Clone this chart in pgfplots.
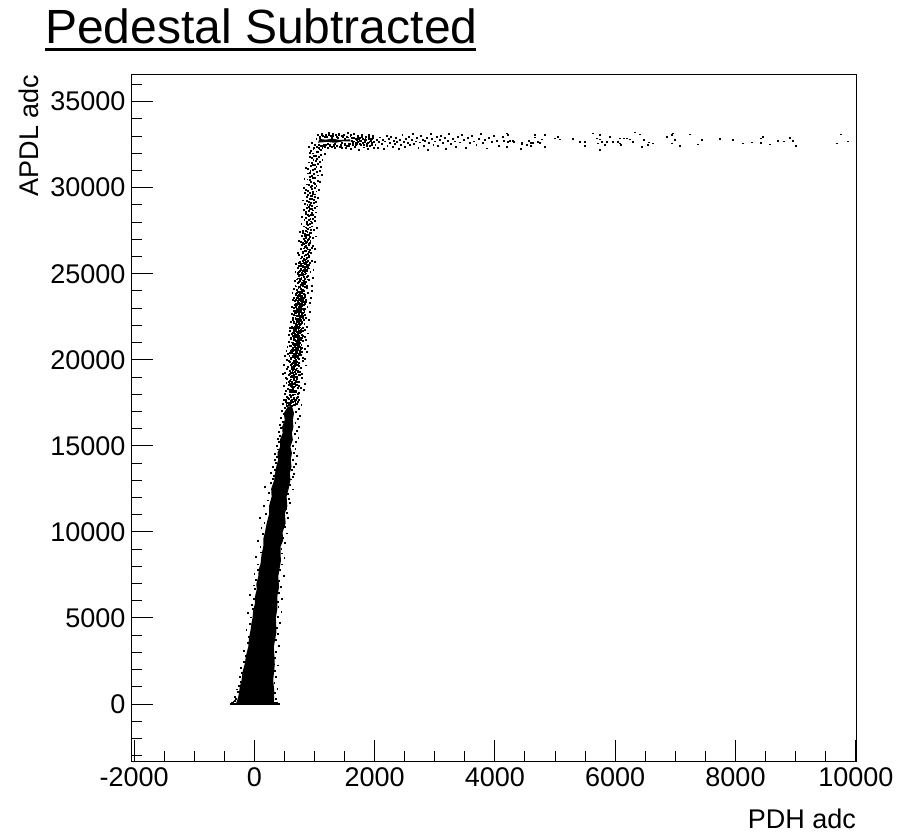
\documentclass[border=0pt]{standalone}
\usepackage{fontspec}
\setmainfont{Liberation Sans}
\usepackage{pgfplots}
\pgfplotsset{compat=1.18}
\begin{document}
\begin{tikzpicture}
\useasboundingbox (0,0) rectangle (673.5pt,625.5pt);
\begin{axis}[
    at={(98.6pt,54.2pt)}, anchor=south west,
    scale only axis, width=543.6pt, height=515.3pt,
    xmin=-2043, xmax=10008, ymin=-3353, ymax=36568,
    axis line style={line width=0.75pt},
    tick style={line width=0.75pt, black},
    tick align=inside,
    ytick pos=left, xtick pos=bottom,
    major tick length=16.5pt, minor tick length=8.25pt,
    xtick={-2000,0,...,10000},
    ytick={0,5000,...,35000},
    scaled ticks=false,
    minor xtick={-1500,-1000,-500,500,1000,1500,2500,3000,3500,4500,5000,5500,6500,7000,7500,8500,9000,9500},
    minor ytick={-3000,-2000,-1000,1000,2000,3000,4000,6000,7000,8000,9000,11000,12000,13000,14000,16000,17000,18000,19000,21000,22000,23000,24000,26000,27000,28000,29000,31000,32000,33000,34000,36000},
    tick label style={font=\fontsize{20.25}{24}\selectfont, /pgf/number format/assume math mode=true, /pgf/number format/1000 sep={}},
    xticklabel style={yshift=-1pt},
    yticklabel style={xshift=-1pt},
    label style={font=\fontsize{20.25}{24}\selectfont, inner sep=0pt},
    xlabel={PDH adc},
    xlabel style={at={(axis description cs:1,-0.0965)}, anchor=base east},
    ylabel={APDL adc},
    ylabel style={at={(axis description cs:-0.1277,1)}, anchor=base east},
    title={\rlap{\rule[-5.3pt]{323pt}{2pt}}Pedestal Subtracted},
    title style={at={(axis description cs:-0.1194,1.0432)}, anchor=base west, yshift=-5pt, font=\fontsize{36}{40}\selectfont, inner sep=0pt},
]
% solid part of the band
\addplot[fill=black, draw=none] coordinates {
(-306,0) (-275,320) (-256,620) (-242,1010) (-212,1394) (-195,1880) (-157,2362) (-140,2800) (-101,3331) (-90,3800) (-63,4300) (-50,4650) (-29,5016) (-18,5450) (10,5849) (8,6200) (37,6624) (35,7000) (65,7399) (72,7800) (104,8173) (118,8650) (148,9142) (150,9600) (176,9975) (205,10500) (248,11079) (245,11500) (287,12047) (280,12500) (330,13016) (345,13403) (365,13800) (395,14178) (385,14600) (430,14953) (425,15350) (470,15728) (462,16100) (505,16502) (490,16900) (560,17300)
(625,17300) (660,16900) (640,16502) (650,16100) (625,15728) (640,15350) (600,14953) (625,14578) (605,14178) (618,13800) (590,13403) (600,13016) (570,12500) (536,12047) (548,11500) (508,11079) (520,10500) (470,9975) (478,9500) (436,9142) (440,8300) (397,7399) (412,6800) (381,6236) (385,5600) (358,5016) (368,4200) (325,3331) (340,2300) (314,1394) (332,700) (325,0)} -- cycle;
% flat foot at zero
\addplot[black, line width=0.9pt] coordinates {(-385,0) (405,0)};
% core of the saturated knee
\addplot[fill=black, draw=none] coordinates {(1060,32620) (1085,32830) (1190,32790) (1300,32850) (1420,32770) (1590,32810) (1600,32690) (1480,32700) (1350,32610) (1200,32660)} -- cycle;
% scattered events
\addplot[only marks, mark=square*, mark size=0.34pt, mark options={draw=none, fill=black}] coordinates {
(-390,15)(-372,60)(-350,110)(-335,40)(-322,190)(-305,320)(-318,410)(-280,700)(-296,860)(-262,1050)(-230,1300)(-248,1610)(-205,1820)(-222,2120)(-172,2450)(-150,2810)(-182,3120)(-112,3560)(-100,3920)(-135,4310)(-70,4650)(-55,5040)(-105,5320)(-30,5510)(-50,5790)(-10,6120)(-72,6340)(10,6680)(-15,6900)(22,7210)(-2,7560)(55,7800)(62,8120)(28,8540)(102,8820)(98,9120)(60,9480)(140,9900)(115,10260)(165,10540)(95,10800)(190,11040)(150,11520)(225,11840)(240,12280)(178,12610)(268,12850)
(345,50)(370,90)(410,25)(352,320)(338,640)(381,910)(332,1220)(358,1580)(335,1940)(382,2250)(345,2680)(360,3010)(399,3390)(352,3710)(392,4080)(375,4450)(422,4720)(382,5060)(448,5380)(398,5660)(392,5940)(460,6120)(405,6480)(432,6820)(412,7150)(485,7430)(430,7780)(450,8120)(498,8490)(462,8760)(448,9030)(510,9350)(470,9640)(535,9920)(500,10280)(485,10560)(560,10820)(535,11090)(525,11360)(590,11680)(565,11940)(560,12210)(640,12480)(585,12760)
(300,13100)(330,13240)(280,13420)(345,13610)(310,13780)(360,14010)(340,14190)(370,14380)(345,14550)(395,14800)(375,15010)(410,15220)(385,15400)(430,15610)(405,15820)(445,16040)(420,16210)(470,16420)(440,16620)(490,16840)(460,17030)(505,17220)(475,17430)(520,17540)(495,17700)(540,17850)(510,18010)(525,18180)(555,18320)(490,18470)(570,18560)(530,18660)(585,18790)(545,18910)(600,19020)(565,19130)(510,19240)(585,19370)(620,19480)(555,19600)(600,19720)(640,19840)(575,19950)
(610,13060)(640,13220)(660,13400)(620,13590)(650,13760)(685,13980)(640,14180)(700,14400)(655,14620)(680,14830)(640,15020)(690,15250)(730,15470)(665,15680)(700,15900)(745,16120)(680,16340)(720,16560)(760,16770)(695,16980)(735,17180)(780,17400)
(545,17330)(575,17370)(612,17350)(648,17410)(585,17440)(530,17470)(628,17310)(670,17380)(700,17450)(555,17520)(600,17610)(725,17550)(680,17520)(520,17680)(560,17800)(745,17700)(612,17830)(662,17710)(585,17960)
(590,17480)(610,17530)(640,17580)(665,17620)(690,17660)(620,17690)(575,17740)(650,17780)(700,17820)(725,17860)(600,17900)(640,17950)(675,18000)(715,18040)(745,18090)(625,18120)(590,18150)(660,18190)(690,18230)(605,18270)(635,18310)(720,18350)(770,18390)(650,18430)(680,18470)(610,18510)(700,18550)(640,18590)(590,18630)(665,18670)(735,18710)(620,18750)(690,18790)(650,18830)(605,18870)(710,18910)(785,18950)(640,18990)(675,19030)(625,19070)(730,19110)(660,19150)(695,19190)(610,19230)(645,19270)(755,19310)(680,19350)(715,19390)(635,19430)(660,19470)(700,19510)(770,19550)(625,19590)(680,19630)(650,19670)(725,19710)(695,19750)(615,19790)(745,19830)(665,19870)(705,19910)(800,19950)
(655,18130)(615,18420)(672,18610)(640,18190)(588,18260)(702,18720)(684,18140)(628,18680)(655,18900)(596,19180)(712,19040)(668,19280)(632,19520)(690,19420)(604,19680)(722,19280)(648,19600)(676,19780)(592,19880)(738,19640)(662,19960)(708,19720)(630,19330)(752,19120)(698,18980)(620,18560)(744,18470)(566,18740)(520,18960)(476,19180)(535,19460)(490,19730)(545,19990)(820,18260)(840,18620)(795,19190)(850,19680)(835,20040)(505,20210)(530,20520)
(690,20010)(602,20040)(745,20065)(668,20100)(812,20125)(701,20160)(640,20190)(725,20210)(580,20240)(770,20270)(695,20300)(655,20330)(735,20365)(710,20400)(620,20420)(795,20450)(680,20480)(748,20510)(600,20545)(722,20570)(660,20600)(705,20630)(840,20660)(690,20690)(640,20720)(760,20750)(715,20780)(672,20810)(590,20840)(735,20870)(780,20900)(695,20930)(650,20960)(725,20990)(625,21020)(700,21050)(810,21080)(745,21110)(680,21140)(770,21170)(610,21200)(722,21230)(660,21260)(755,21290)(700,21320)(845,21350)(640,21380)(735,21410)(690,21440)(785,21470)(720,21500)(665,21530)(760,21560)(630,21590)(745,21620)(705,21650)(810,21680)(685,21710)(770,21740)(650,21770)(730,21800)(790,21830)(700,21860)(755,21890)(620,21920)(735,21950)(680,21980)
(610,20120)(645,20230)(585,20410)(665,20370)(700,20480)(625,20590)(745,20280)(680,20610)(720,20720)(605,20790)(650,20880)(690,20510)(770,20630)(640,21000)(715,21120)(660,21210)(735,20980)(600,21310)(680,21330)(755,21190)(700,21420)(625,21500)(730,21360)(790,21260)(655,21620)(715,21590)(690,21730)(625,21830)(760,21660)(740,21870)(665,21900)(705,21990)(840,21760)(585,21680)
(560,20330)(868,20470)(548,20740)(882,20830)(575,21060)(855,21150)(565,21450)(890,21540)(590,21880)(870,21930)(612,20070)(728,20140)(676,20250)(762,20390)(632,20510)(698,20560)(784,20710)(668,20740)(745,20840)(632,20910)(708,20870)(762,20980)(692,21090)(652,21170)(728,21280)(670,21390)(798,21400)(712,21470)(648,21560)(768,21610)(690,21790)(735,21700)(660,21840)(812,21880)(718,21930)
(760,22020)(705,22060)(830,22100)(655,22140)(745,22180)(790,22220)(700,22260)(640,22300)(770,22340)(725,22380)(860,22420)(680,22460)(750,22500)(810,22540)(715,22580)(660,22620)(785,22660)(735,22700)(695,22740)(830,22780)(765,22820)(650,22860)(745,22900)(800,22940)(710,22980)(775,23020)(880,23060)(690,23100)(755,23140)(820,23180)(665,23220)(735,23260)(795,23300)(720,23340)(850,23380)(770,23420)(700,23460)(810,23500)(745,23540)(660,23580)(785,23620)(840,23660)(725,23700)(770,23740)(690,23780)(815,23820)(750,23860)(895,23900)(720,23940)(790,23980)
(690,22120)(735,22080)(655,22230)(785,22170)(720,22330)(700,22400)(760,22290)(645,22440)(745,22540)(690,22590)(805,22460)(730,22670)(770,22590)(670,22720)(720,22810)(790,22740)(700,22880)(755,22960)(650,23000)(815,22880)(730,23090)(785,23140)(695,23230)(760,23280)(840,23240)(725,23390)(670,23440)(800,23410)(745,23510)(860,23500)(700,23630)(770,23680)(815,23610)(735,23790)(680,23850)(790,23900)(845,23780)(755,23960)
(610,22210)(905,22350)(625,22680)(920,22790)(615,23060)(925,23310)(640,23480)(940,23620)(630,23910)(948,23990)(768,22090)(712,22190)(738,22260)(822,22310)(680,22360)(752,22410)(782,22500)(706,22540)(838,22630)(742,22620)(808,22710)(754,22770)(692,22830)(778,22890)(722,22940)(842,22990)(758,23060)(700,23180)(792,23220)(745,23320)(828,23350)(684,23520)(768,23560)(722,23600)(792,23700)(748,23740)(830,23860)(708,23880)(772,23930)(812,23980)
(830,24030)(700,24080)(765,24130)(870,24180)(740,24230)(805,24280)(680,24330)(785,24380)(845,24430)(725,24480)(815,24530)(760,24580)(905,24630)(700,24680)(835,24730)(780,24780)(865,24830)(745,24880)(810,24930)(715,24980)(855,25030)(790,25080)(930,25130)(750,25180)(825,25230)(880,25280)(720,25330)(800,25380)(850,25430)(765,25480)(905,25530)(830,25580)(745,25630)(875,25680)(810,25730)(950,25780)
(785,24090)(730,24160)(840,24220)(690,24270)(770,24350)(815,24410)(745,24510)(860,24560)(800,24620)(720,24740)(775,24700)(830,24800)(885,24860)(755,24920)(800,25010)(840,25100)(720,25060)(780,25210)(860,25250)(910,25320)(815,25390)(745,25440)(875,25500)(790,25610)(850,25700)(915,25660)(760,25720)
(655,24150)(955,24320)(668,24570)(968,24760)(680,25120)(980,25240)(695,25560)(1000,25690)(808,24060)(750,24260)(872,24300)(792,24470)(828,24600)(762,24710)(892,24680)(818,24840)(778,24960)(842,24970)(735,25110)(872,25160)(812,25150)(770,25300)(835,25330)(798,25470)(888,25390)(858,25560)(772,25590)(822,25660)(892,25770)(838,25790)
(860,25840)(770,25900)(900,25960)(830,26020)(745,26080)(885,26140)(945,26200)(800,26260)(855,26320)(920,26380)(770,26440)(875,26500)(835,26560)(965,26620)(795,26680)(905,26740)(850,26800)(765,26860)(930,26920)(885,26980)(815,27040)(970,27100)(860,27160)(785,27220)(910,27280)(840,27340)(945,27400)(880,27460)(800,27520)(990,27580)(865,27640)(925,27700)(820,27760)(895,27820)(780,27880)(955,27940)
(825,25860)(878,25930)(792,25980)(912,26060)(858,26110)(812,26190)(902,26280)(832,26350)(888,26420)(815,26480)(948,26520)(858,26620)(900,26660)(825,26720)(872,26860)(812,26780)(918,26810)(842,26930)(905,27010)(860,27060)(928,27150)(832,27230)(878,27290)(808,27390)(918,27380)(858,27510)(938,27530)(892,27620)(848,27700)(958,27760)(872,27880)(915,27930)(722,26220)(1010,26470)(735,26900)(1020,27180)(748,27420)(1035,27690)
(875,28010)(1000,28080)(830,28150)(930,28220)(790,28290)(905,28360)(970,28430)(855,28500)(1020,28570)(900,28640)(815,28710)(950,28780)(875,28850)(1040,28920)(925,28990)(840,29060)(985,29130)(905,29200)(800,29270)(955,29340)(1050,29410)(870,29480)(930,29550)(1005,29620)(845,29690)(965,29760)(895,29830)(1075,29900)(815,29970)
(942,28050)(898,28120)(968,28180)(862,28270)(1010,28300)(935,28410)(888,28450)(952,28540)(860,28600)(978,28690)(922,28750)(1005,28830)(898,28900)(962,28960)(880,29030)(940,29110)(1020,29190)(872,29240)(982,29290)(918,29370)(1005,29450)(948,29520)(892,29590)(978,29670)(928,29720)(1030,29790)(860,29880)(948,29930)(1000,29990)
(952,30090)(905,30150)(1008,30240)(945,30320)(1060,30410)(880,30490)(975,30560)(928,30650)(1050,30720)(992,30810)(915,30890)(1085,30960)(972,31040)(895,31120)(1030,31190)(942,31270)(1005,31350)(960,31450)(1085,31520)(980,31610)(1045,31690)(925,31780)(1020,31850)(1105,31920)(970,32000)(1060,32080)(945,32170)(1080,32250)
(940,30040)(1030,30120)(870,30200)(985,30280)(1090,30360)(915,30440)(830,30520)(1010,30600)(960,30680)(1120,30760)(885,30840)(1045,30920)(930,31000)(1000,31080)(850,31160)(1100,31240)(965,31320)(1060,31400)(905,31480)(1020,31560)(1130,31640)(950,31720)(1075,31800)(990,31880)(1170,31960)(920,32040)(1040,32110)(1110,32180)(980,32250)
(900,32400)(950,32620)(985,32300)(1010,32500)(1030,32850)(1040,32380)(1060,33050)(1070,32300)(1090,32950)(1100,32450)(1115,33150)(1130,32320)(1145,33000)(1160,32500)(1175,32400)(1190,33100)(1205,32950)(1220,32330)(1235,33180)(1250,32490)(1265,33020)(1280,32400)(1295,32960)(1310,33120)(1325,32510)(1340,32300)(1355,33050)(1370,32450)(1385,32930)(1400,33150)(1415,32380)(1430,32520)(1445,33010)(1460,32340)(1475,32930)(1490,33100)(1505,32480)(1520,32300)(1535,32970)(1550,33190)(1565,32420)(1580,32530)(1595,33040)(1610,32280)(1625,32900)(1640,32620)(1655,33120)(1670,32400)(1685,32820)(1700,32560)(1715,33000)(1730,32230)(1745,32750)(1760,32900)(1775,32480)(1790,33070)(1805,32620)(1820,32350)(1835,32800)(1850,32970)(1865,32540)(1880,32270)(1895,33100)(1910,32680)(1925,32430)(1940,32860)(1955,32600)(1970,33000)(1985,32320)
(1100,32750)(1150,32700)(1220,32550)(1280,32920)(1340,32570)(1390,32880)(1450,32600)(1510,32860)(1570,32570)(1620,32750)(1660,32700)(1680,32610)(1705,32780)(1725,32680)(1740,32830)(1770,32720)(1795,32580)(1810,32850)(1830,32650)(1860,32760)(1885,32610)(1905,32820)(1935,32720)(1960,32830)(1990,32650)
(1075,32520)(1095,32910)(1125,33060)(1140,32440)(1170,32960)(1195,32470)(1240,33060)(1260,32440)(1305,33030)(1325,32420)(1365,32940)(1410,33050)(1440,32450)(1470,33020)(1500,32540)(1530,32410)(1560,32930)(1600,33100)(1630,32480)(1650,32920)(1690,32500)(1720,32900)(1755,32560)(1780,32950)(1815,32510)(1845,32900)(1875,32440)(1900,32960)(1945,32500)(1975,32900)
(2010,32480)(2030,32780)(2055,32330)(2075,32650)(2090,32930)(2115,32550)(2135,32800)(2150,32250)(2175,32700)(2195,33020)(2210,32440)(2230,32840)(2250,32600)(2275,32980)(2295,32360)(2315,32740)(2335,32530)(2355,32900)(2375,32650)(2395,32270)(2420,32800)(2440,32520)(2460,33080)(2480,32690)(2500,32400)(2525,32860)(2545,32600)(2565,32940)(2590,32480)(2610,32770)(2635,33120)(2655,32550)(2680,32700)(2705,32880)(2725,32300)(2745,32640)(2770,33000)(2795,32790)(2815,32460)(2835,32710)(2860,32920)(2885,32230)(2905,32610)(2930,33150)(2955,32830)(2975,32520)(3000,32700)(3030,32950)(3055,32420)(3080,32790)(3105,33040)(3130,32600)(3160,32880)(3185,32250)(3210,32720)(3240,33110)(3270,32560)(3300,32850)(3330,32700)(3355,32400)(3385,32950)(3415,32640)(3445,33060)(3480,32780)(3510,32300)(3545,32880)(3580,32620)(3610,33000)(3650,32700)(3690,32480)(3725,32850)(3760,33130)(3795,32590)(3830,32760)(3870,32290)(3905,32900)(3945,32660)(3985,33020)(4030,32730)(4070,32450)
(4126,32967)(4193,33160)(4220,33064)(4148,32734)(4220,32676)(4248,32715)(4293,32734)(4315,32676)(4193,32386)(4442,32637)(4442,32540)(4425,32250)(4525,32482)(4570,32734)(4592,32618)(4592,32424)(4636,32618)(4664,33064)(4664,32928)(4719,32676)(4775,32812)(4747,32618)(4830,33064)(4830,32386)(4996,32870)(5052,32967)(5079,32812)(5290,32831)(5412,32676)(5495,32676)(5495,32444)(5622,33160)(5744,33064)(5689,32870)(5744,32812)(5772,32676)(5716,32580)(5855,32676)(5827,32482)(5744,32192)(5910,32967)(5966,32676)(6049,32676)(6076,32580)(6087,32482)(6076,32870)(6143,32870)(6198,32870)(6243,32812)(6326,33218)(6409,33102)(6298,32676)(6475,32773)(6437,32386)(6564,32637)(6547,32482)(6630,32580)(6852,32967)(6935,33064)(6963,33160)(6991,32773)(6935,32580)(7074,32444)(7240,33102)(7434,32773)(7378,32521)(7738,32831)(7949,32773)(8126,32580)(8276,32637)(8420,32618)(8459,32967)(8420,32870)(8569,32521)(8708,32734)(8808,32696)(8902,32909)(8957,32734)(9001,32444)(9744,33102)(9871,32696)(9688,32580)
};
\end{axis}
\end{tikzpicture}
\end{document}
